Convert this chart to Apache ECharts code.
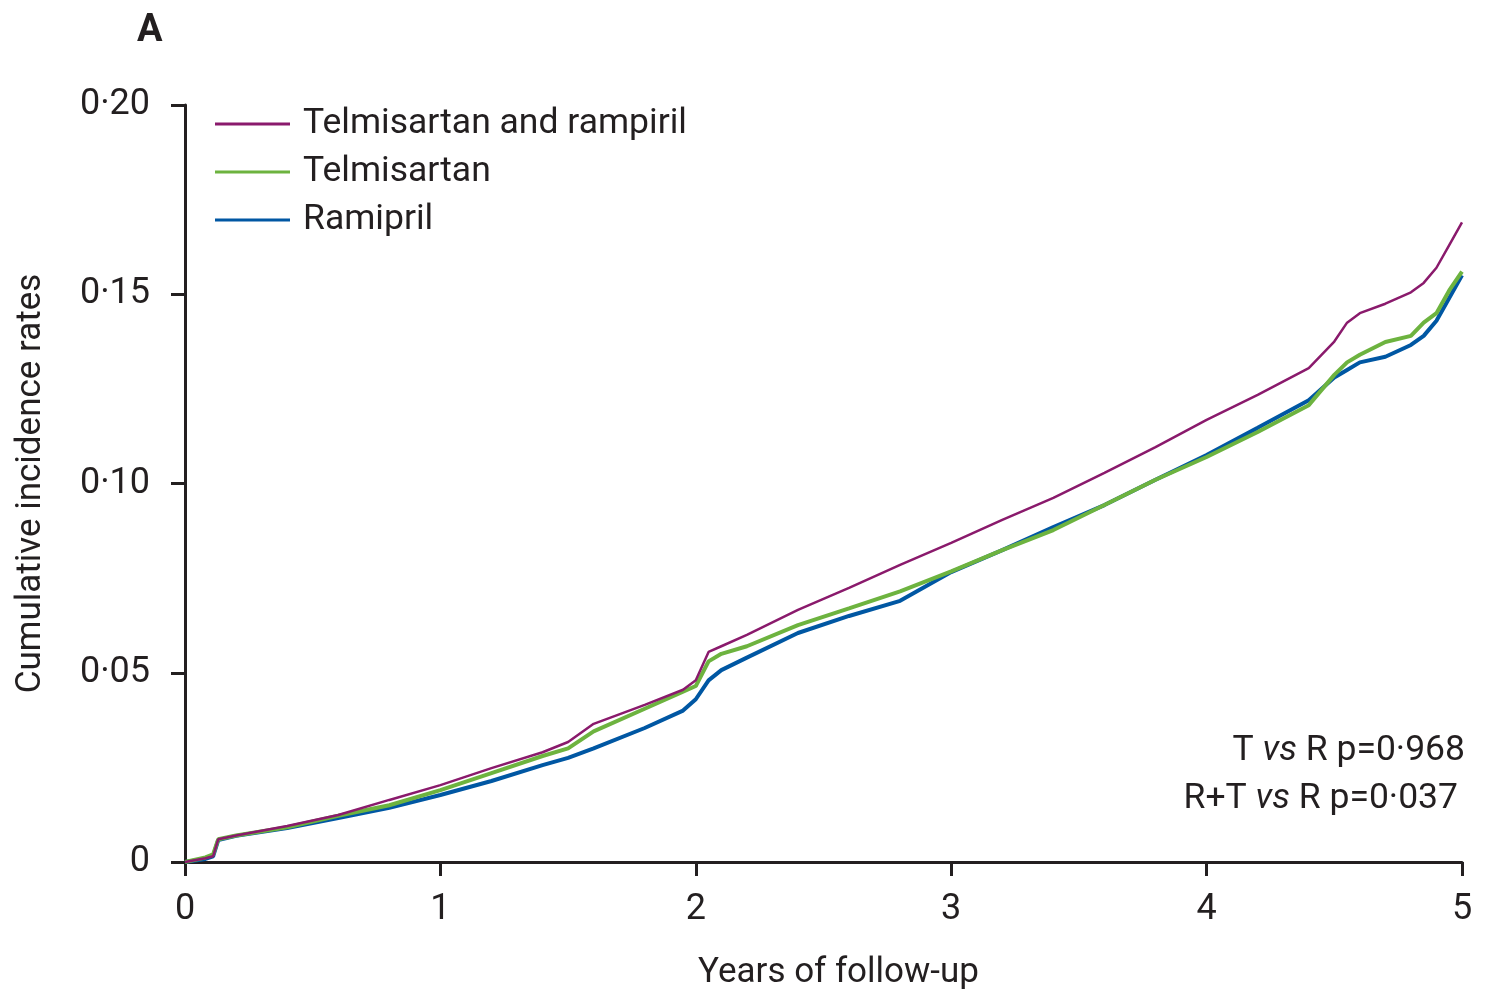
<!DOCTYPE html>
<html>
<head>
<meta charset="utf-8">
<title>Cumulative incidence</title>
<script src="https://cdn.jsdelivr.net/npm/echarts@6/dist/echarts.min.js"></script>
<style>
  html, body { margin: 0; padding: 0; background: #fff; }
  #chart { width: 1486px; height: 994px; }
</style>
</head>
<body>
<div id="chart"></div>
<script>
// Follow-up times (years) at which each curve is sampled
const years = [0, 0.08, 0.11, 0.13, 0.2, 0.4, 0.6, 0.8, 1.0, 1.2, 1.4, 1.5, 1.6, 1.8, 1.95, 2.0, 2.05, 2.1, 2.2, 2.4, 2.6, 2.8, 3.0, 3.2, 3.4, 3.6, 3.8, 4.0, 4.2, 4.4, 4.5, 4.55, 4.6, 4.7, 4.8, 4.85, 4.9, 4.95, 5.0];

// Cumulative incidence per treatment arm
const combination = [0, 0.001, 0.0015, 0.006, 0.007, 0.0095, 0.0124, 0.0164, 0.0203, 0.0248, 0.029, 0.0317, 0.0365, 0.0415, 0.0455, 0.048, 0.0555, 0.057, 0.060, 0.0666, 0.0724, 0.0785, 0.0843, 0.0904, 0.0962, 0.1028, 0.1096, 0.1168, 0.1234, 0.1305, 0.1375, 0.1425, 0.145, 0.1475, 0.1505, 0.153, 0.157, 0.163, 0.169];
const telmisartan = [0, 0.0012, 0.002, 0.006, 0.007, 0.0092, 0.0122, 0.015, 0.019, 0.0235, 0.028, 0.030, 0.0345, 0.0405, 0.045, 0.0465, 0.053, 0.055, 0.057, 0.0626, 0.067, 0.0715, 0.0768, 0.0824, 0.0877, 0.0943, 0.101, 0.107, 0.1136, 0.1207, 0.1287, 0.132, 0.134, 0.1374, 0.139, 0.1425, 0.145, 0.151, 0.156];
const ramipril = [0, 0.0008, 0.0015, 0.0058, 0.0069, 0.009, 0.0116, 0.0143, 0.0177, 0.0214, 0.0256, 0.0275, 0.030, 0.0354, 0.040, 0.043, 0.048, 0.0507, 0.054, 0.0605, 0.065, 0.069, 0.0766, 0.0824, 0.0885, 0.0943, 0.101, 0.1075, 0.1147, 0.122, 0.128, 0.130, 0.132, 0.1335, 0.1366, 0.139, 0.143, 0.149, 0.155];

const seriesNames = ['Telmisartan and rampiril', 'Telmisartan', 'Ramipril'];
const seriesColors = ['#8a1a6c', '#6db33f', '#0057a3'];
const seriesWidths = [2.5, 4, 4];
const seriesValues = [combination, telmisartan, ramipril];

const pTexts = ['T {i|vs} R p=0·968', 'R+T {i|vs} R p=0·037'];

const FONT = "Roboto, 'Open Sans', sans-serif";
const INK = '#231f20';

const chart = echarts.init(document.getElementById('chart'), null, { renderer: 'canvas' });

const pairs = vals => years.map((t, i) => [t, vals[i]]);

chart.setOption({
  animation: false,
  backgroundColor: '#ffffff',
  grid: { left: 185, right: 24, top: 105, bottom: 132, containLabel: false, outerBoundsMode: 'none' },
  legend: {
    orient: 'vertical',
    left: 215,
    top: 104,
    padding: 0,
    icon: 'rect',
    itemWidth: 75,
    itemHeight: 3,
    itemGap: 8,
    data: seriesNames,
    textStyle: { fontFamily: FONT, fontSize: 35.5, lineHeight: 40, color: INK, padding: [0, 0, 0, 8] }
  },
  xAxis: {
    type: 'value',
    min: 0,
    max: 5,
    interval: 1,
    name: 'Years of follow-up',
    nameLocation: 'middle',
    nameGap: 94,
    nameTextStyle: { fontFamily: FONT, fontSize: 35, color: INK, padding: [0, 0, 0, 30] },
    axisLine: { show: true, onZero: false, lineStyle: { color: INK, width: 3 } },
    axisTick: { show: true, length: 14, lineStyle: { color: INK, width: 3 } },
    axisLabel: { fontFamily: FONT, fontSize: 36, color: INK, margin: 30 },
    splitLine: { show: false }
  },
  yAxis: {
    type: 'value',
    min: 0,
    max: 0.2,
    interval: 0.05,
    name: 'Cumulative incidence rates',
    nameLocation: 'middle',
    nameGap: 136,
    nameTextStyle: { fontFamily: FONT, fontSize: 35, color: INK },
    axisLine: { show: true, lineStyle: { color: INK, width: 3 } },
    axisTick: { show: true, length: 14, lineStyle: { color: INK, width: 3 } },
    axisLabel: {
      fontFamily: FONT, fontSize: 36, color: INK, margin: 35,
      formatter: v => v === 0 ? '0' : v.toFixed(2).replace('.', '·')
    },
    splitLine: { show: false }
  },
  series: seriesNames.map((name, k) => ({
    name: name,
    type: 'line',
    data: pairs(seriesValues[k]),
    showSymbol: false,
    symbol: 'none',
    lineStyle: { color: seriesColors[k], width: seriesWidths[k] },
    itemStyle: { color: seriesColors[k] },
    z: 3 - k
  })),
  graphic: [
    {
      type: 'text', left: 137, top: 12,
      style: { text: 'A', font: "bold 38px Roboto, sans-serif", fill: INK }
    },
    {
      type: 'text', right: 21, top: 733,
      style: {
        text: pTexts[0], align: 'right',
        font: '35.5px ' + FONT, fill: INK,
        rich: { i: { fontStyle: 'italic', fontSize: 35.5, fontFamily: FONT, fill: INK } }
      }
    },
    {
      type: 'text', right: 28, top: 781,
      style: {
        text: pTexts[1], align: 'right',
        font: '35.5px ' + FONT, fill: INK,
        rich: { i: { fontStyle: 'italic', fontSize: 35.5, fontFamily: FONT, fill: INK } }
      }
    }
  ]
});
</script>
</body>
</html>
